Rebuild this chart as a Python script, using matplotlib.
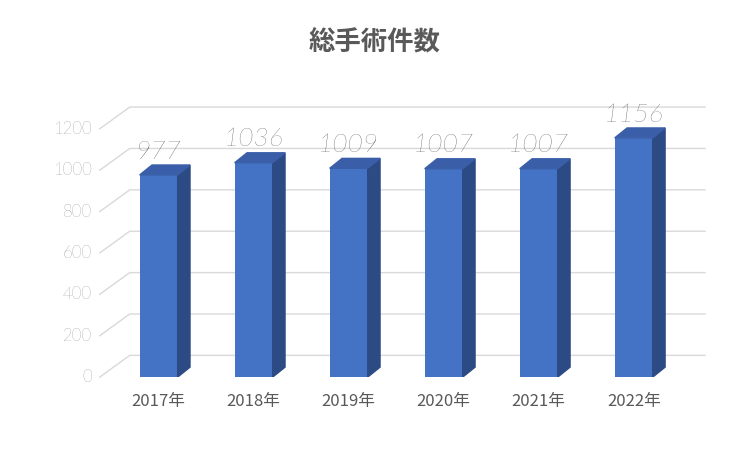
import matplotlib.pyplot as plt
from matplotlib.patches import Polygon

plt.rcParams['font.family'] = ['Noto Sans CJK JP', 'DejaVu Sans']

nam = ["2017年", "2018年", "2019年", "2020年", "2021年", "2022年"]
so_ca = [977, 1036, 1009, 1007, 1007, 1156]
moc_y = [0, 200, 400, 600, 800, 1000, 1200]

fig = plt.figure(figsize=(7.5, 4.5), dpi=100)
ax = fig.add_axes([0.133, 0.162, 0.807, 0.607])
x0, x1 = -0.62, 5.75
ax.set_xlim(x0, x1)
ax.set_ylim(0, 1320)
ax.axis('off')

# 3D-style gridlines (front point -> back wall)
g_dx, g_dy = 30 / 95, 105
for v in moc_y:
    ax.plot([x0, x0 + g_dx, x1], [v, v + g_dy, v + g_dy],
            color='#d9d9d9', lw=1, clip_on=False, zorder=1)
    ax.text(x0 - 0.08, v, str(v), ha='right', va='center',
            fontsize=12, color='#595959', family=['Lato', 'DejaVu Sans'],
            fontweight='light')

# bars
w, dx, dy = 0.4, 0.13, 48
mat_truoc, mat_ben, mat_tren = '#4472C4', '#2C4B85', '#3A5FA8'
ax.bar(range(len(so_ca)), so_ca, width=w, color=mat_truoc, zorder=3)
for i, v in enumerate(so_ca):
    l, r = i - w / 2, i + w / 2
    ax.add_patch(Polygon([(r, 0), (r + dx, dy), (r + dx, v + dy), (r, v)],
                         closed=True, color=mat_ben, zorder=3))
    ax.add_patch(Polygon([(l, v), (r, v), (r + dx, v + dy), (l + dx, v + dy)],
                         closed=True, color=mat_tren, zorder=3))
    ax.text(i, v + 55, str(v), ha='center', va='bottom', fontsize=19,
            style='italic', fontweight='light', family=['Lato', 'DejaVu Sans'],
            color='#404040', zorder=4)
    ax.text(i, -75, nam[i], ha='center', va='top', fontsize=12, color='#595959')

fig.text(0.5, 0.905, "総手術件数", ha='center', va='center', fontsize=19,
         fontweight='bold', color='#595959')

fig.savefig('out.png', dpi=100)
